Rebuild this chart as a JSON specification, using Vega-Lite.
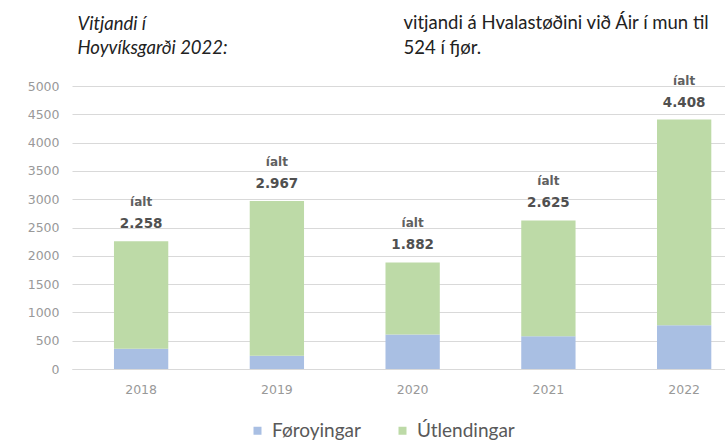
{
  "$schema": "https://vega.github.io/schema/vega-lite/v6.json",
  "autosize": {"type": "none"},
  "width": 653,
  "height": 283,
  "padding": {"left": 72, "top": 86, "right": 0, "bottom": 76},
  "background": "#ffffff",
  "datasets": {
    "bars": [
      {"year": "2018", "group": "Føroyingar", "visitors": 357},
      {"year": "2018", "group": "Útlendingar", "visitors": 1901},
      {"year": "2019", "group": "Føroyingar", "visitors": 235},
      {"year": "2019", "group": "Útlendingar", "visitors": 2732},
      {"year": "2020", "group": "Føroyingar", "visitors": 608},
      {"year": "2020", "group": "Útlendingar", "visitors": 1274},
      {"year": "2021", "group": "Føroyingar", "visitors": 577},
      {"year": "2021", "group": "Útlendingar", "visitors": 2048},
      {"year": "2022", "group": "Føroyingar", "visitors": 774},
      {"year": "2022", "group": "Útlendingar", "visitors": 3634}
    ],
    "totals": [
      {"year": "2018", "visitors": 2258, "label": "2.258", "word": "íalt"},
      {"year": "2019", "visitors": 2967, "label": "2.967", "word": "íalt"},
      {"year": "2020", "visitors": 1882, "label": "1.882", "word": "íalt"},
      {"year": "2021", "visitors": 2625, "label": "2.625", "word": "íalt"},
      {"year": "2022", "visitors": 4408, "label": "4.408", "word": "íalt"}
    ]
  },
  "encoding": {
    "x": {
      "field": "year",
      "type": "nominal",
      "scale": {"paddingInner": 0.6, "paddingOuter": 0.205, "align": 0.754},
      "axis": {
        "title": ["vitjandi á Hvalastøðini við Áir í mun til", "524 í fjør."],
        "titleX": 331,
        "titleY": -341,
        "titleAlign": "left",
        "titleAnchor": "start",
        "titleBaseline": "alphabetic",
        "titleFont": "Lato",
        "titleFontSize": 18.5,
        "titleFontWeight": "normal",
        "titleLineHeight": 25,
        "titleColor": "#222222",
        "labelAngle": 0,
        "labelFont": "DejaVu Sans",
        "labelFontSize": 12.5,
        "labelColor": "#999999",
        "labelPadding": 14,
        "ticks": false,
        "domainColor": "#d9d9d9",
        "domain": true
      }
    },
    "y": {
      "field": "visitors",
      "type": "quantitative",
      "aggregate": "sum",
      "scale": {"domain": [0, 5000], "nice": false},
      "axis": {
        "values": [0, 500, 1000, 1500, 2000, 2500, 3000, 3500, 4000, 4500, 5000],
        "format": "d",
        "labelOverlap": false,
        "labelFont": "DejaVu Sans",
        "labelFontSize": 12.5,
        "labelColor": "#999999",
        "labelPadding": 13,
        "ticks": false,
        "domain": false,
        "gridColor": "#d9d9d9",
        "gridWidth": 1,
        "title": ["Vitjandi í", "Hoyvíksgarði 2022:"],
        "titleAngle": 0,
        "titleAlign": "left",
        "titleBaseline": "alphabetic",
        "titleX": 5,
        "titleY": -57,
        "titleFont": "Lato",
        "titleFontSize": 18.5,
        "titleFontStyle": "italic",
        "titleFontWeight": "normal",
        "titleLineHeight": 24,
        "titleColor": "#222222"
      }
    }
  },
  "layer": [
    {
      "data": {"name": "bars"},
      "mark": {"type": "bar"},
      "encoding": {
        "color": {
          "field": "group",
          "type": "nominal",
          "scale": {"domain": ["Føroyingar", "Útlendingar"], "range": ["#a9bfe3", "#bddaa7"]},
          "legend": {
            "title": null,
            "orient": "none",
            "legendX": 176,
            "legendY": 335,
            "direction": "horizontal",
            "symbolType": "square",
            "symbolSize": 64,
            "symbolStrokeWidth": 0,
            "labelFont": "Lato",
            "labelFontSize": 19,
            "labelColor": "#595959",
            "columnPadding": 32,
            "labelOffset": 5
          }
        },
        "order": {"field": "group", "sort": "ascending"}
      }
    },
    {
      "data": {"name": "totals"},
      "mark": {"type": "text", "dy": -39, "font": "DejaVu Sans", "fontSize": 12, "fontWeight": "bold", "color": "#606060", "baseline": "middle"},
      "encoding": {
        "text": {"field": "word"}
      }
    },
    {
      "data": {"name": "totals"},
      "mark": {"type": "text", "dy": -17, "font": "DejaVu Sans", "fontSize": 13.5, "fontWeight": "bold", "color": "#505050", "baseline": "middle"},
      "encoding": {
        "text": {"field": "label"}
      }
    }
  ],
  "config": {"view": {"stroke": null}}
}
